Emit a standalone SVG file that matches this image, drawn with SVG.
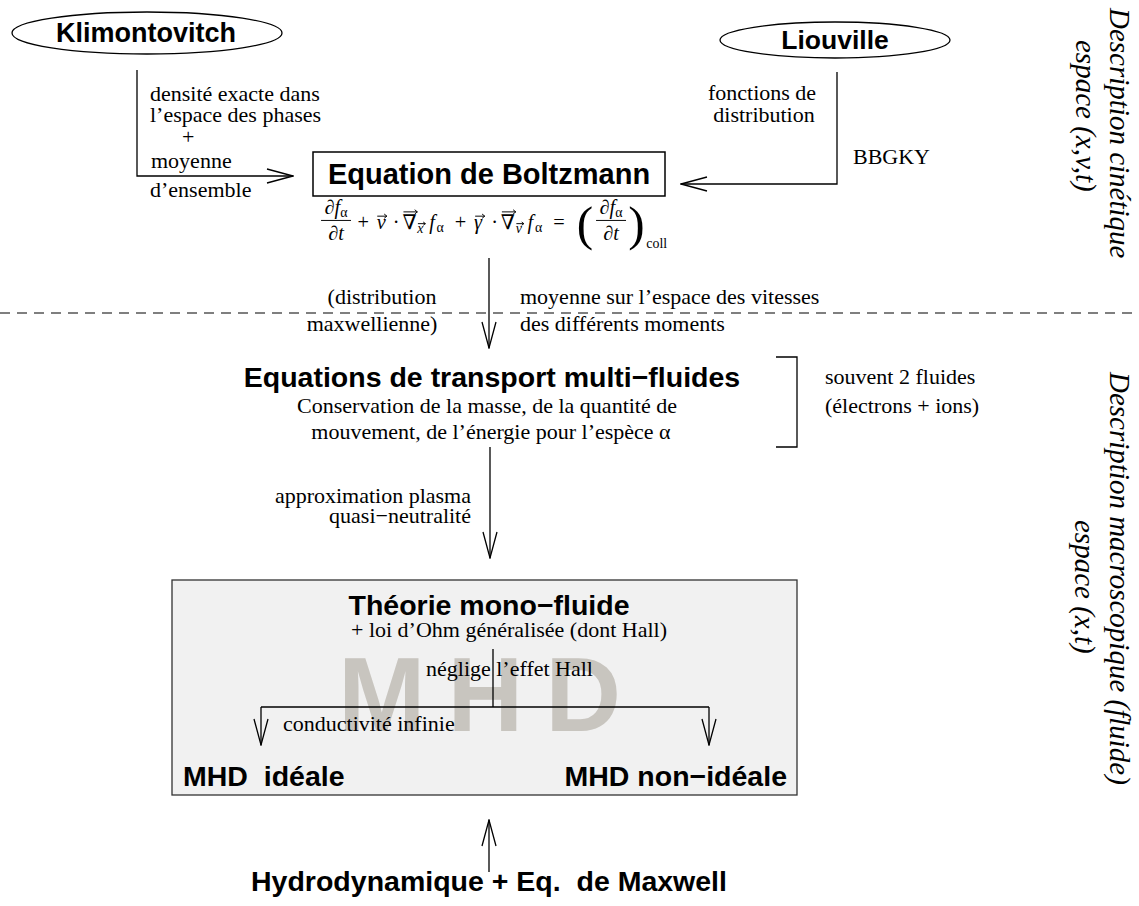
<svg xmlns="http://www.w3.org/2000/svg" width="1139" height="906" viewBox="0 0 1139 906">
<defs>
<style>
.t{font-family:"Liberation Serif","Times New Roman",serif;font-size:22px;fill:#000}
.b{font-family:"Liberation Sans",Arial,sans-serif;font-weight:bold;font-size:28.5px;fill:#000}
.m{font-family:"Liberation Serif","DejaVu Serif",serif;font-size:19px;fill:#000}
.ms{font-family:"Liberation Serif","DejaVu Serif",serif;font-size:13px;fill:#000}
.i{font-style:italic}
.ln{fill:none;stroke:#000;stroke-width:1.3}
.acc{fill:none;stroke:#000;stroke-width:0.9}
.side{font-family:"Liberation Serif","Times New Roman",serif;font-style:italic;font-size:29px;fill:#000}
</style>
<marker id="ah" viewBox="0 0 28 16" refX="27" refY="8" markerWidth="28" markerHeight="16" markerUnits="userSpaceOnUse" orient="auto">
<path d="M1,1 L27,8 L1,15" fill="none" stroke="#000" stroke-width="1.3"/>
</marker>
</defs>
<rect width="1139" height="906" fill="#fff"/>

<g id="sidelabels">
<text class="side" transform="translate(1110,8) rotate(90)">Description cinétique</text>
<text class="side" transform="translate(1076,40) rotate(90)">espace (x,v,t)</text>
<text class="side" transform="translate(1110,372) rotate(90)">Description macroscopique (fluide)</text>
<text class="side" transform="translate(1075,520) rotate(90)">espace (x,t)</text>
</g>

<g id="separator">
<line x1="0" y1="313" x2="1139" y2="313" stroke="#000" stroke-width="1.1" stroke-dasharray="10,7"/>
</g>

<g id="mhdbox">
<rect x="172" y="580" width="625" height="215" fill="#f1f1f1" stroke="#333" stroke-width="1.3"/>
<text x="338" y="731" style="font-family:'Liberation Sans',Arial,sans-serif;font-weight:bold;font-size:105px;letter-spacing:22px" fill="#c8c5bf">MHD</text>
</g>

<g id="connectors">
<polyline class="ln" points="137,70 137,176 293,176" marker-end="url(#ah)"/>
<polyline class="ln" points="837,72 837,184 681,184" marker-end="url(#ah)"/>
<line class="ln" x1="489" y1="258" x2="489" y2="348" marker-end="url(#ah)"/>
<line class="ln" x1="490" y1="447" x2="490" y2="558" marker-end="url(#ah)"/>
<line class="ln" x1="493" y1="649" x2="493" y2="707"/>
<line class="ln" x1="261" y1="707" x2="709" y2="707"/>
<line class="ln" x1="261" y1="707" x2="261" y2="745" marker-end="url(#ah)"/>
<line class="ln" x1="709" y1="707" x2="709" y2="745" marker-end="url(#ah)"/>
<line class="ln" x1="489" y1="872" x2="489" y2="820" marker-end="url(#ah)"/>
<polyline class="ln" points="776,357 797,357 797,447 776,447"/>
</g>

<g id="klimontovitch">
<ellipse cx="147" cy="33" rx="135" ry="21" fill="#fff" stroke="#000" stroke-width="1.3"/>
<text class="b" x="146" y="42" text-anchor="middle" style="font-size:27px">Klimontovitch</text>
</g>

<g id="liouville">
<ellipse cx="835" cy="40" rx="115" ry="18" fill="#fff" stroke="#000" stroke-width="1.3"/>
<text class="b" x="835" y="49" text-anchor="middle" style="font-size:26.5px">Liouville</text>
</g>

<g id="labels-top">
<text class="t" x="150" y="101">densité exacte dans</text>
<text class="t" x="150" y="122">l’espace des phases</text>
<text class="t" x="182" y="144">+</text>
<text class="t" x="151" y="168">moyenne</text>
<text class="t" x="150" y="197">d’ensemble</text>
<text class="t" x="762" y="100" text-anchor="middle">fonctions de</text>
<text class="t" x="764" y="122" text-anchor="middle">distribution</text>
<text class="t" x="853" y="164">BBGKY</text>
</g>

<g id="boltzmann">
<rect x="313" y="152" width="352" height="44" fill="#fff" stroke="#000" stroke-width="1.5"/>
<text class="b" x="489" y="184" text-anchor="middle" style="font-size:29px">Equation de Boltzmann</text>
<g id="equation" transform="translate(320 229) scale(1.07) translate(-320 -229)">
<text class="m" x="335" y="215" text-anchor="middle">∂<tspan class="i">f</tspan><tspan font-size="13" dy="3">α</tspan></text>
<line x1="321" y1="221" x2="349" y2="221" stroke="#000" stroke-width="0.9"/>
<text class="m" x="335" y="239" text-anchor="middle">∂<tspan class="i">t</tspan></text>
<text class="m" x="355" y="229">+</text>
<text class="m i" x="373" y="229">v</text>
<path class="acc" d="M373.5,217 h9 M380,215 l2.5,2 l-2.5,2"/>
<text class="m" x="388" y="229">·</text>
<text class="m" x="397" y="229">∇</text>
<path class="acc" d="M398,213 h13 M408.5,211 l2.5,2 l-2.5,2"/>
<text class="ms i" x="411" y="233">x</text>
<path class="acc" d="M411.5,224 h7 M416.5,222.5 l2,1.5 l-2,1.5"/>
<text class="m i" x="422" y="229">f</text>
<text class="ms" x="429" y="232">α</text>
<text class="m" x="446" y="229">+</text>
<text class="m i" x="464" y="229">γ</text>
<path class="acc" d="M465,217 h9 M471.5,215 l2.5,2 l-2.5,2"/>
<text class="m" x="480" y="229">·</text>
<text class="m" x="489" y="229">∇</text>
<path class="acc" d="M490,213 h13 M500.5,211 l2.5,2 l-2.5,2"/>
<text class="ms i" x="503" y="233">v</text>
<path class="acc" d="M503.5,224 h7 M508.5,222.5 l2,1.5 l-2,1.5"/>
<text class="m i" x="514" y="229">f</text>
<text class="ms" x="521" y="232">α</text>
<text class="m" x="538" y="229">=</text>
<text class="m" x="560" y="239" style="font-size:46px">(</text>
<text class="m" x="592" y="215" text-anchor="middle">∂<tspan class="i">f</tspan><tspan font-size="13" dy="3">α</tspan></text>
<line x1="578" y1="221" x2="606" y2="221" stroke="#000" stroke-width="0.9"/>
<text class="m" x="592" y="239" text-anchor="middle">∂<tspan class="i">t</tspan></text>
<text class="m" x="608" y="239" style="font-size:46px">)</text>
<text class="ms" x="625" y="247">coll</text>
</g>
</g>

<g id="labels-mid">
<text class="t" x="382" y="304" text-anchor="middle">(distribution</text>
<text class="t" x="372" y="331" text-anchor="middle">maxwellienne)</text>
<text class="t" x="520" y="304">moyenne sur l’espace des vitesses</text>
<text class="t" x="520" y="331">des différents moments</text>
</g>

<g id="multifluides">
<text class="b" x="492" y="387" text-anchor="middle">Equations de transport multi−fluides</text>
<text class="t" x="487" y="413" text-anchor="middle">Conservation de la masse, de la quantité de</text>
<text class="t" x="491" y="439" text-anchor="middle">mouvement, de l’énergie pour l’espèce α</text>
</g>

<g id="deuxfluides">
<text class="t" x="825" y="384">souvent 2 fluides</text>
<text class="t" x="825" y="413">(électrons + ions)</text>
</g>

<g id="labels-plasma">
<text class="t" x="471" y="503" text-anchor="end">approximation plasma</text>
<text class="t" x="471" y="523" text-anchor="end">quasi−neutralité</text>
</g>

<g id="monofluide">
<text class="b" x="489" y="615" text-anchor="middle">Théorie mono−fluide</text>
<text class="t" x="509" y="637" text-anchor="middle">+ loi d’Ohm généralisée (dont Hall)</text>
<text class="t" x="426" y="676">néglige l’effet Hall</text>
<text class="t" x="283" y="731">conductivité infinie</text>
</g>

<g id="mhdideale">
<text class="b" x="183" y="786">MHD&#160; idéale</text>
</g>
<g id="mhdnonideale">
<text class="b" x="787" y="786" text-anchor="end">MHD non−idéale</text>
</g>

<g id="hydro">
<text class="b" x="489" y="891" text-anchor="middle">Hydrodynamique + Eq.&#160; de Maxwell</text>
</g>
</svg>
